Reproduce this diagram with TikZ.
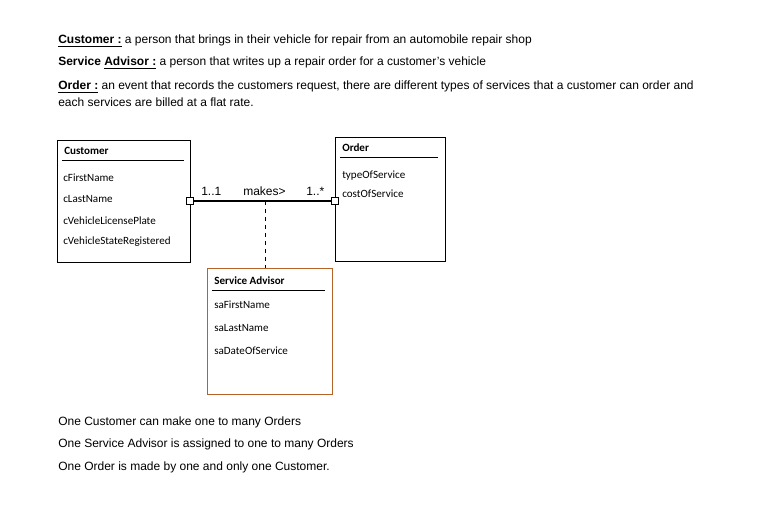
\documentclass[tikz,border=0pt]{standalone}
\usepackage{fontspec}
\setmainfont{Liberation Sans}
\newfontfamily\carlitofont{Carlito}
\begin{document}
\begin{tikzpicture}[x=0.75pt,y=-0.75pt,
  txt/.style={anchor=west,inner sep=0pt,font=\fontsize{9}{10}\selectfont},
  attr/.style={anchor=west,inner sep=0pt,font=\carlitofont\fontsize{8.3}{9}\selectfont},
  hdr/.style={anchor=west,inner sep=0pt,font=\carlitofont\bfseries\fontsize{8.3}{9}\selectfont},
  cls/.style={draw,line width=0.6pt},
  endsq/.style={draw,fill=white,minimum size=5pt,inner sep=0pt}]
\useasboundingbox (0,0) rectangle (770,509);
\node[txt] (d1) at (58,41) {\textbf{\underline{Customer :}} a person that brings in their vehicle for repair from an automobile repair shop};
\node[txt] (d2) at (58,63) {\textbf{Service \underline{Advisor :}} a person that writes up a repair order for a customer's vehicle};
\node[txt] (d3) at (58,87) {\textbf{\underline{Order :}} an event that records the customers request, there are different types of services that a customer can order and};
\node[txt] (d4) at (58,102) {each services are billed at a flat rate.};
% Customer
\draw[cls] (57,140) rectangle (190,262);
\node[hdr] (ch) at (64,151) {Customer};
\draw (62,160) -- (184,160);
\node[attr] (c1) at (63,178) {cFirstName};
\node[attr] (c2) at (63,199) {cLastName};
\node[attr] (c3) at (63,221) {cVehicleLicensePlate};
\node[attr] (c4) at (63,242) {cVehicleStateRegistered};
% Order
\draw[cls] (335,137) rectangle (445,261);
\node[hdr] (oh) at (342,148) {Order};
\draw (340,157) -- (438,157);
\node[attr] (o1) at (342,176) {typeOfService};
\node[attr] (o2) at (342,194) {costOfService};
% Service Advisor
\draw[cls,draw={rgb,255:red,180;green,100;blue,40}] (207,268) rectangle (332,394);
\node[hdr] (sh) at (214,281) {Service Advisor};
\draw (212,290) -- (325,290);
\node[attr] (s1) at (214,305) {saFirstName};
\node[attr] (s2) at (214,328) {saLastName};
\node[attr] (s3) at (214,351) {saDateOfService};
% association
\coordinate (mid) at (265,201);
\coordinate (sa) at (265,268);
\draw[line width=0.8pt] (190,201) -- (335,201);
\draw[dashed] (mid) -- (sa);
\node[endsq] (e1) at (190,201) {};
\node[endsq] (e2) at (335,201) {};
\node[txt] (m1) at (201,191) {1..1};
\node[txt] (m2) at (243,191) {makes>};
\node[txt] (m3) at (306,191) {1..*};
% bottom
\node[txt] (b1) at (58,422) {One Customer can make one to many Orders};
\node[txt] (b2) at (58,444) {One Service Advisor is assigned to one to many Orders};
\node[txt] (b3) at (58,467) {One Order is made by one and only one Customer.};
\end{tikzpicture}
\end{document}
